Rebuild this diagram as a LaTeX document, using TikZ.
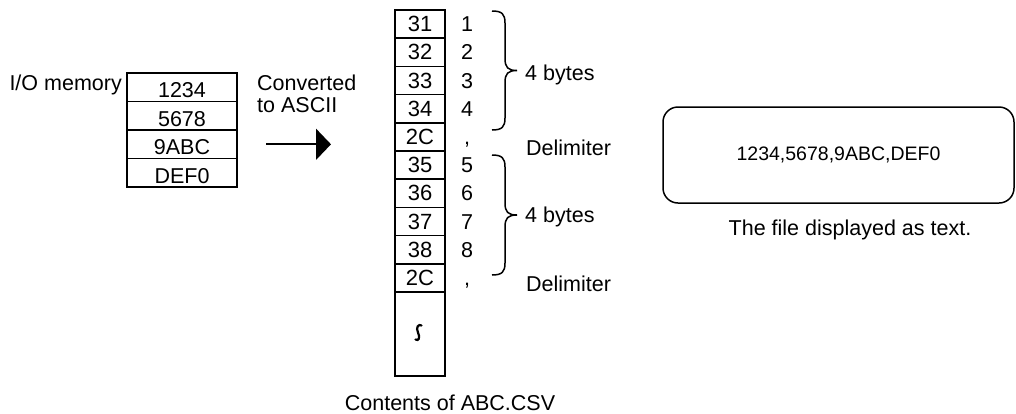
\documentclass[tikz,border=0pt]{standalone}
\usepackage{fontspec}
\setmainfont{Liberation Sans}
\usetikzlibrary{arrows.meta}
\begin{document}
\begin{tikzpicture}[x=1pt,y=-1pt,
  every node/.style={font=\fontsize{21.5}{24}\selectfont, inner sep=0pt},
  cell/.style={draw, line width=1.5pt, minimum width=50pt, minimum height=28.2pt, font=\fontsize{22}{24}\selectfont},
  memcell/.style={draw, line width=1.5pt, minimum width=110pt, minimum height=28.5pt},
  numtxt/.style={font=\fontsize{21.5}{24}\selectfont, anchor=base},
  lbl/.style={anchor=base west},
  bracepath/.style={line width=1.5pt},
  squiggle/.style={line width=2.2pt, line cap=round},
  conv/.style={line width=1.8pt, -{Triangle[length=15pt,width=31pt]}}
]
\useasboundingbox (0,0) rectangle (1016,413);

% I/O memory
\node[anchor=base east] (iolbl) at (122,90) {I/O memory};
\foreach \t [count=\i] in {1234,5678,9ABC,DEF0} {
  \node[memcell] (m\i) at (182,{73+28.5*(\i-0.5)}) {};
  \node[numtxt] (mt\i) at (182,{73+28.5*(\i-0.5)+10.5}) {\t};
}

% conversion
\node[lbl] (conv1) at (257,90) {Converted};
\node[lbl] (conv2) at (257,112) {to ASCII};
\coordinate (arrS) at (266,144.3);
\coordinate (arrE) at (331,144.3);
\draw[conv] (arrS) -- (arrE);

% column
\foreach \t [count=\i] in {31,32,33,34,2C,35,36,37,38,2C} {
  \node[cell] (c\i) at (420,{10+28.2*(\i-0.5)}) {\t};
}
\node[cell, minimum height=84pt] (c11) at (420,334) {};
\draw[squiggle] (421.5,325.5) .. controls (418.5,323.5) and (415.5,327.5) .. (418,332.5)
  .. controls (420.5,337.5) and (418.5,341.5) .. (415.5,339.5);

\foreach \t [count=\i] in {1,2,3,4,{,},5,6,7,8,{,}} {
  \node[numtxt] (ch\i) at (467,{10+28.2*(\i-0.5)+7.6}) {\t};
}

% braces
\foreach \ya/\yb in {11/130, 155/275} {
  \pgfmathsetmacro\ym{(\ya+\yb)/2}
  \draw[bracepath] (492,\ya) .. controls (502,\ya) and (505,\ya+3) .. (505,\ya+12)
    -- (505,\ym-12) .. controls (505,\ym-3) and (508,\ym) .. (517,\ym)
    .. controls (508,\ym) and (505,\ym+3) .. (505,\ym+12)
    -- (505,\yb-12) .. controls (505,\yb-3) and (502,\yb) .. (492,\yb);
}
\node[lbl] (by1) at (525,80.5) {4 bytes};
\node[lbl] (by2) at (525,222) {4 bytes};
\node[lbl] (del1) at (526,155) {Delimiter};
\node[lbl] (del2) at (526,291) {Delimiter};

\node[anchor=base] (cont) at (450,410) {Contents of ABC.CSV};

% file box
\node[draw, line width=1.5pt, rounded corners=15pt, minimum width=351pt, minimum height=96pt,
  font=\fontsize{19.5}{24}\selectfont] (file) at (838.5,155) {1234,5678,9ABC,DEF0};
\node[anchor=base] (filecap) at (850,235) {The file displayed as text.};
\end{tikzpicture}
\end{document}
